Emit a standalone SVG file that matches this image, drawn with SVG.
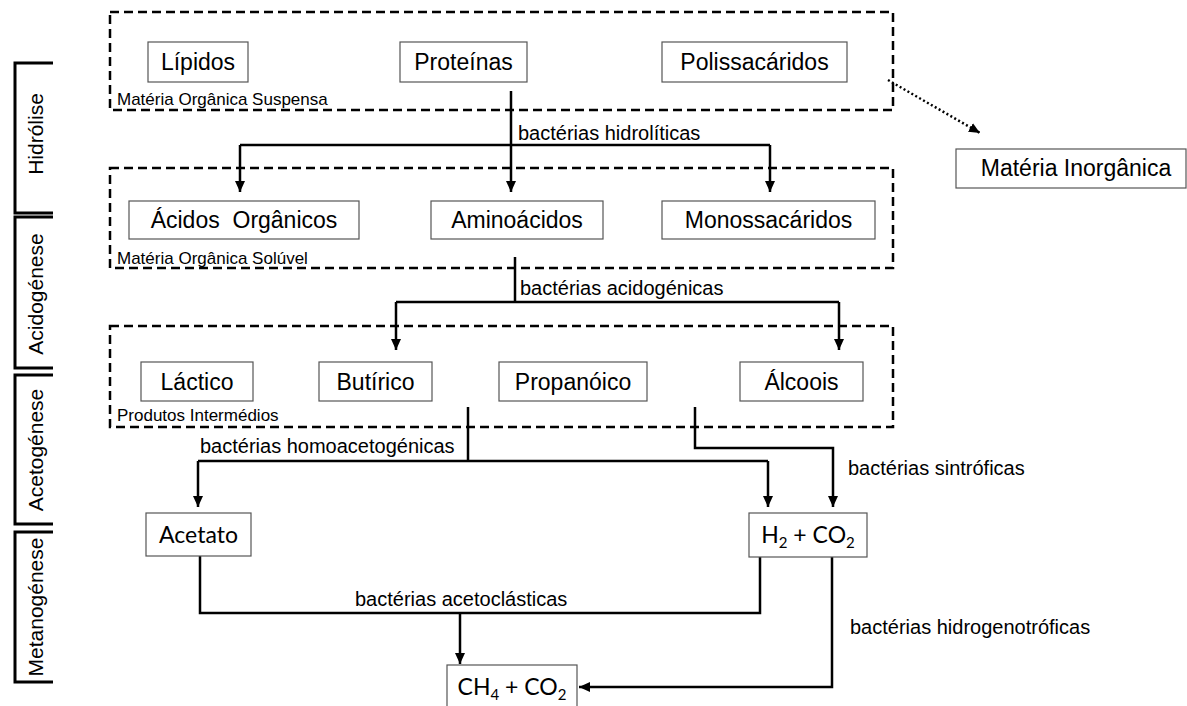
<svg xmlns="http://www.w3.org/2000/svg" width="1187" height="706" viewBox="0 0 1187 706">
<style>
.bg{fill:#fff}
.box{fill:#fff;stroke:#555;stroke-width:1.2}
.grp{fill:none;stroke:#000;stroke-width:2.5;stroke-dasharray:9 5}
.br{fill:none;stroke:#000;stroke-width:3}
.con{fill:none;stroke:#000;stroke-width:2.5}
.dot{fill:none;stroke:#000;stroke-width:2.5;stroke-dasharray:2 2.5}
.t{font-family:"Liberation Sans",Arial,sans-serif;font-size:23px;fill:#000;text-anchor:middle}
.c{font-family:Lato,"Open Sans",sans-serif;font-size:23px;fill:#000;text-anchor:middle}
.lbl{font-family:"Liberation Sans",Arial,sans-serif;font-size:20px;fill:#000}
.sm{font-family:"Liberation Sans",Arial,sans-serif;font-size:17px;fill:#000}
.side{font-family:"Liberation Sans",Arial,sans-serif;font-size:21px;fill:#000;text-anchor:middle}
</style>
<defs>
<marker id="ah" markerUnits="userSpaceOnUse" markerWidth="12" markerHeight="12" refX="11" refY="6" orient="auto">
<path d="M0,1 L11,6 L0,11 z" fill="#000"/>
</marker>
<marker id="ah2" markerUnits="userSpaceOnUse" markerWidth="12" markerHeight="12" refX="11" refY="6" orient="auto">
<path d="M0,1 L11,6 L0,11 z" fill="#000"/>
</marker>
</defs>
<rect class="bg" x="0" y="0" width="1187" height="706"/>

<g id="phases">
<g id="phase-hidrolise"><path class="br" d="M53,63 H15 V213 H53"/><text class="side" transform="translate(43,134) rotate(-90)">Hidrólise</text></g>
<g id="phase-acidogenese"><path class="br" d="M53,217 H15 V368 H53"/><text class="side" transform="translate(43,294) rotate(-90)">Acidogénese</text></g>
<g id="phase-acetogenese"><path class="br" d="M53,375 H15 V524 H53"/><text class="side" transform="translate(43,450) rotate(-90)">Acetogénese</text></g>
<g id="phase-metanogenese"><path class="br" d="M53,532 H15 V682 H53"/><text class="side" transform="translate(43,607) rotate(-90)">Metanogénese</text></g>
</g>

<g id="groups">
<g id="grp-suspensa"><rect class="grp" x="110" y="12" width="783" height="98"/><text class="sm" x="117" y="105">Matéria Orgânica Suspensa</text></g>
<g id="grp-soluvel"><rect class="grp" x="110" y="168" width="783" height="100"/><text class="sm" x="117" y="264">Matéria Orgânica Solúvel</text></g>
<g id="grp-intermedios"><rect class="grp" x="110" y="326" width="783" height="101"/><text class="sm" x="117" y="421">Produtos Intermédios</text></g>
</g>

<g id="connectors">
<path class="con" d="M511,91 V192" marker-end="url(#ah)"/>
<path class="con" d="M240,145 H770"/>
<path class="con" d="M240,145 V192" marker-end="url(#ah)"/>
<path class="con" d="M770,145 V192" marker-end="url(#ah)"/>
<path class="con" d="M515,257 V302"/>
<path class="con" d="M396,302 H839"/>
<path class="con" d="M396,302 V350" marker-end="url(#ah)"/>
<path class="con" d="M839,302 V350" marker-end="url(#ah)"/>
<path class="con" d="M468,407 V461"/>
<path class="con" d="M198,461 H768"/>
<path class="con" d="M198,461 V507" marker-end="url(#ah)"/>
<path class="con" d="M768,461 V507" marker-end="url(#ah)"/>
<path class="con" d="M695,407 V448 H833 V507" marker-end="url(#ah)"/>
<path class="con" d="M200,551 V613 H760 V553"/>
<path class="con" d="M460,613 V664" marker-end="url(#ah)"/>
<path class="con" d="M832,553 V687 H579" marker-end="url(#ah)"/>
<path class="dot" d="M888,80 L980,133" marker-end="url(#ah2)"/>
<text class="lbl" x="518" y="140">bactérias hidrolíticas</text>
<text class="lbl" x="520" y="295">bactérias acidogénicas</text>
<text class="lbl" x="200" y="453">bactérias homoacetogénicas</text>
<text class="lbl" x="848" y="475">bactérias sintróficas</text>
<text class="lbl" x="355" y="606">bactérias acetoclásticas</text>
<text class="lbl" x="850" y="634">bactérias hidrogenotróficas</text>
</g>

<g id="n-lipidos"><rect class="box" x="148" y="42" width="100" height="40"/><text class="t" x="198" y="70">Lípidos</text></g>
<g id="n-proteinas"><rect class="box" x="400" y="42" width="127" height="40"/><text class="t" x="463.5" y="70">Proteínas</text></g>
<g id="n-polissacaridos"><rect class="box" x="662" y="42" width="185" height="40"/><text class="t" x="754.5" y="70">Polissacáridos</text></g>
<g id="n-inorganica"><rect class="box" x="956" y="149" width="230" height="39"/><text class="t" x="1076" y="176">Matéria Inorgânica</text></g>
<g id="n-acidos"><rect class="box" x="129" y="201" width="230" height="38"/><text class="t" x="244" y="228" xml:space="preserve">Ácidos  Orgânicos</text></g>
<g id="n-aminoacidos"><rect class="box" x="431" y="201" width="172" height="38"/><text class="t" x="517" y="228">Aminoácidos</text></g>
<g id="n-monossacaridos"><rect class="box" x="662" y="201" width="213" height="38"/><text class="t" x="768.5" y="228">Monossacáridos</text></g>
<g id="n-lactico"><rect class="box" x="141" y="362" width="112" height="39"/><text class="t" x="197" y="390">Láctico</text></g>
<g id="n-butirico"><rect class="box" x="319" y="362" width="113" height="39"/><text class="t" x="375.5" y="390">Butírico</text></g>
<g id="n-propanoico"><rect class="box" x="499" y="362" width="148" height="39"/><text class="t" x="573" y="390">Propanóico</text></g>
<g id="n-alcoois"><rect class="box" x="740" y="362" width="123" height="39"/><text class="t" x="801.5" y="390">Álcoois</text></g>
<g id="n-acetato"><rect class="box" x="146" y="513" width="105" height="43"/><text class="c" x="198.5" y="543">Acetato</text></g>
<g id="n-h2co2"><rect class="box" x="749" y="513" width="118" height="44"/><text class="c" x="808" y="543">H<tspan font-size="15" dy="5">2</tspan><tspan dy="-5"> + CO</tspan><tspan font-size="15" dy="5">2</tspan></text></g>
<g id="n-ch4co2"><rect class="box" x="447" y="665" width="130" height="45"/><text class="c" x="512" y="695">CH<tspan font-size="15" dy="5">4</tspan><tspan dy="-5"> + CO</tspan><tspan font-size="15" dy="5">2</tspan></text></g>
</svg>
